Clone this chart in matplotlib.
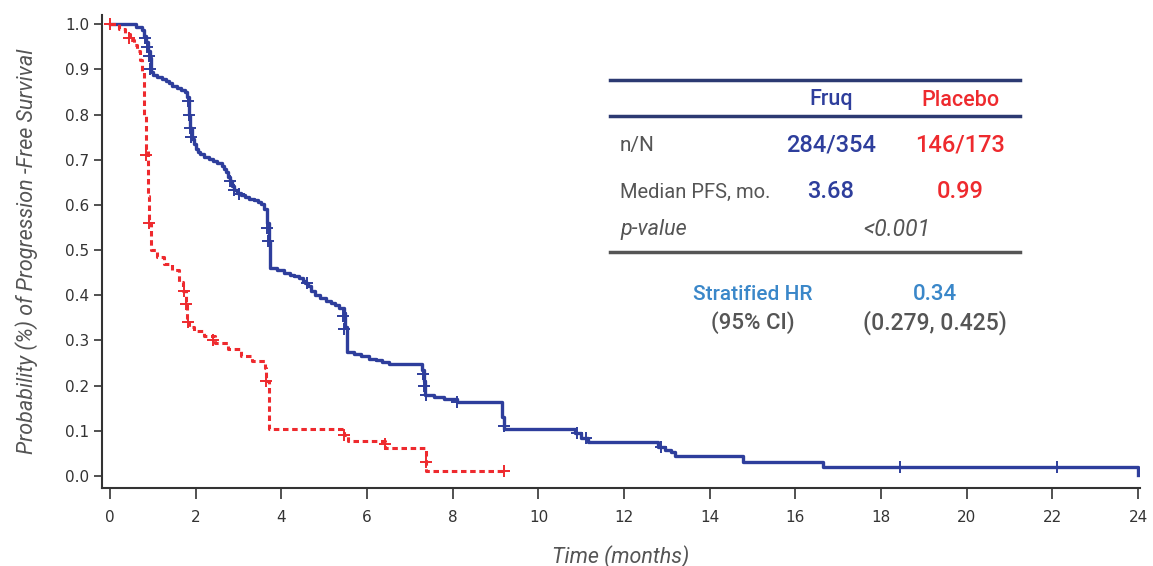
# Kaplan-Meier PFS: Fruq vs Placebo
import numpy as np
import matplotlib
matplotlib.use("Agg")
import matplotlib.pyplot as plt

# Fruq step curve (time in months, survival after that time)
fruq_t = [0, 0.6, 0.74, 0.80, 0.84, 0.88, 0.92, 0.95, 1.0, 1.1, 1.2, 1.3, 1.38, 1.45, 1.55,
          1.65, 1.75, 1.80, 1.83, 1.85, 1.87, 1.90, 1.95, 2.0, 2.05, 2.1, 2.2, 2.3, 2.4,
          2.5, 2.6, 2.65, 2.7, 2.75, 2.8, 2.85, 2.9, 2.95, 3.05, 3.15, 3.25, 3.35, 3.45,
          3.52, 3.60, 3.66, 3.70, 3.73, 3.9, 4.05, 4.2, 4.3, 4.4, 4.5, 4.55, 4.62, 4.7,
          4.78, 4.9, 5.05, 5.15, 5.25, 5.35, 5.45, 5.48, 5.52, 5.7, 5.85, 6.05, 6.2, 6.35,
          6.5, 7.28, 7.32, 7.36, 7.55, 7.8, 8.1, 9.15, 9.2, 10.85, 11.0, 11.15, 12.8,
          12.95, 13.1, 13.2, 14.78, 16.65, 24.0]
fruq_s = [1.0, 0.994, 0.988, 0.975, 0.96, 0.94, 0.925, 0.895, 0.887, 0.883, 0.879, 0.874,
          0.869, 0.863, 0.858, 0.854, 0.85, 0.84, 0.82, 0.80, 0.77, 0.745, 0.735, 0.725,
          0.718, 0.712, 0.707, 0.702, 0.697, 0.692, 0.686, 0.68, 0.672, 0.662, 0.652,
          0.642, 0.633, 0.626, 0.622, 0.618, 0.614, 0.61, 0.606, 0.602, 0.59, 0.56, 0.52,
          0.46, 0.455, 0.45, 0.446, 0.442, 0.438, 0.432, 0.427, 0.42, 0.41, 0.4, 0.395,
          0.388, 0.383, 0.378, 0.372, 0.36, 0.33, 0.275, 0.27, 0.265, 0.26, 0.256, 0.252,
          0.247, 0.235, 0.21, 0.18, 0.175, 0.17, 0.164, 0.13, 0.104, 0.095, 0.085, 0.075,
          0.065, 0.058, 0.052, 0.045, 0.03, 0.02, 0.003]
fruq_cens_t = [0.82, 0.86, 0.9, 0.93, 1.82, 1.84, 1.86, 1.88, 2.8, 2.9, 3.0, 3.67, 3.69,
               4.6, 5.44, 5.47, 7.3, 7.33, 7.38, 8.1, 9.2, 10.9, 11.1, 12.85, 18.45, 22.1]
fruq_cens_s = [0.97, 0.95, 0.93, 0.9, 0.83, 0.80, 0.77, 0.75, 0.652, 0.633, 0.625, 0.55,
               0.52, 0.427, 0.355, 0.325, 0.225, 0.2, 0.18, 0.164, 0.11, 0.095, 0.085,
               0.065, 0.02, 0.02]

# Placebo step curve
plac_t = [0, 0.2, 0.35, 0.47, 0.55, 0.62, 0.70, 0.74, 0.78, 0.80, 0.84, 0.88, 0.91, 0.95,
          1.1, 1.25, 1.45, 1.6, 1.7, 1.76, 1.80, 1.84, 1.95, 2.2, 2.45, 2.75, 3.05, 3.3,
          3.62, 3.65, 3.7, 5.45, 5.55, 6.42, 7.38, 9.2]
plac_s = [1.0, 0.99, 0.978, 0.965, 0.955, 0.942, 0.92, 0.895, 0.85, 0.80, 0.72, 0.62,
          0.56, 0.50, 0.485, 0.47, 0.455, 0.43, 0.41, 0.38, 0.35, 0.33, 0.32, 0.31, 0.295,
          0.28, 0.265, 0.255, 0.24, 0.21, 0.105, 0.09, 0.078, 0.062, 0.012, 0.012]
plac_cens_t = [0.0, 0.45, 0.84, 0.91, 1.72, 1.78, 1.82, 2.4, 3.64, 5.45, 6.42, 7.38, 9.2]
plac_cens_s = [1.0, 0.97, 0.71, 0.56, 0.41, 0.38, 0.34, 0.30, 0.21, 0.09, 0.07, 0.03, 0.012]

x_ticks = list(range(0, 25, 2))
y_ticks = [0.0, 0.1, 0.2, 0.3, 0.4, 0.5, 0.6, 0.7, 0.8, 0.9, 1.0]

arms = ["Fruq", "Placebo"]
n_over_N = ["284/354", "146/173"]
median_pfs = ["3.68", "0.99"]
p_value = "<0.001"
hr = "0.34"
hr_ci = "(0.279, 0.425)"

blue = "#2E3E9C"
red = "#EE2A2E"
gray = "#555555"
hr_blue = "#3A87C9"
narrow = ["Roboto", "DejaVu Sans"]
w = "medium"

fig = plt.figure(figsize=(11.53, 5.66), dpi=100)
ax = fig.add_axes([0.0885, 0.138, 0.9, 0.835])

ax.step(fruq_t, fruq_s, where="post", color=blue, lw=2.4, zorder=3)
ax.plot(fruq_cens_t, fruq_cens_s, ls="none", marker="+", ms=8, mew=1.4, color=blue, zorder=4)
ax.step(plac_t, plac_s, where="post", color=red, lw=2.2, ls=(0, (1.8, 1.2)), zorder=3)
ax.plot(plac_cens_t, plac_cens_s, ls="none", marker="+", ms=8, mew=1.4, color=red, zorder=4)

ax.set_xlim(-0.19, 24.04)
ax.set_ylim(-0.0265, 1.02)
ax.set_xticks(x_ticks)
ax.set_yticks(y_ticks)
ax.set_yticklabels([f"{v:.1f}" for v in y_ticks])
ax.tick_params(axis="x", direction="out", length=8, width=1.2, colors="#333333",
               labelsize=11, pad=8)
ax.tick_params(axis="y", direction="out", length=6, width=1.2, colors="#333333",
               labelsize=11, pad=3)
for s in ["top", "right"]:
    ax.spines[s].set_visible(False)
for s in ["left", "bottom"]:
    ax.spines[s].set_linewidth(1.5)
    ax.spines[s].set_color("#333333")

ax.set_ylabel("Probability (%) of Progression -Free Survival", fontsize=15.5,
              style="italic", color=gray, family=narrow, labelpad=20)
ax.set_xlabel("Time (months)", fontsize=15.5, style="italic", color=gray,
              family=narrow, labelpad=14)

# summary table in figure pixel coords
def fx(px):
    return px / 1153

def fy(py):
    return 1 - py / 566

fig.add_artist(plt.Line2D([fx(610), fx(1020)], [fy(80), fy(80)], color="#2C3A72", lw=2.5))
fig.add_artist(plt.Line2D([fx(610), fx(1020)], [fy(116), fy(116)], color="#2C3A72", lw=2.5))
fig.add_artist(plt.Line2D([fx(610), fx(1020)], [fy(252), fy(252)], color=gray, lw=2.5))

col_x = [fx(831), fx(960)]
cols = [blue, red]
for i in range(2):
    fig.text(col_x[i], fy(100), arms[i], color=cols[i], fontsize=15.5, ha="center",
             va="center", family=narrow, weight=w)
    fig.text(col_x[i], fy(145), n_over_N[i], color=cols[i], fontsize=17, ha="center",
             va="center", family=narrow, weight=w)
    fig.text(col_x[i], fy(192), median_pfs[i], color=cols[i], fontsize=17, ha="center",
             va="center", family=narrow, weight=w)
fig.text(fx(620), fy(145), "n/N", color=gray, fontsize=15, ha="left", va="center",
         family=narrow)
fig.text(fx(620), fy(192), "Median PFS, mo.", color=gray, fontsize=14.5, ha="left",
         va="center", family=narrow)
fig.text(fx(620), fy(230), "p-value", color=gray, fontsize=15.5, ha="left", va="center",
         style="italic", family=narrow)
fig.text(fx(897), fy(230), p_value, color=gray, fontsize=16.5, ha="center", va="center",
         style="italic", family=narrow)

fig.text(fx(753), fy(294), "Stratified HR", color=hr_blue, fontsize=15, ha="center",
         va="center", family=narrow, weight=w)
fig.text(fx(935), fy(294), hr, color=hr_blue, fontsize=16, ha="center", va="center",
         family=narrow, weight=w)
fig.text(fx(753), fy(323), "(95% CI)", color=gray, fontsize=16, ha="center",
         va="center", family=narrow, weight=w)
fig.text(fx(935), fy(323), hr_ci, color=gray, fontsize=16.5, ha="center", va="center",
         family=narrow, weight=w)

fig.savefig("out.png", dpi=100)
